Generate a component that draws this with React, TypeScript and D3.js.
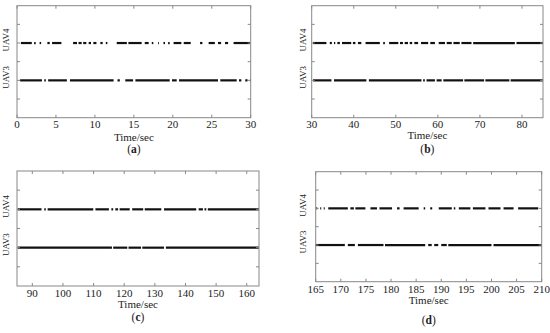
import * as d3 from 'd3';

type Seg = [number, number];

// received-message intervals (seconds)
const aUav4: Seg[] = [[0.5, 1.9], [2.2, 2.4], [2.9, 3.1], [3.9, 4.2], [4.5, 5.7], [7.2, 7.7], [7.9, 8.3], [8.5, 8.9], [9.2, 9.5], [9.8, 10.2], [10.7, 11.0], [11.4, 11.6], [12.8, 14.1], [14.3, 16.0], [16.4, 16.9], [17.3, 17.5], [18.1, 18.2], [18.8, 19.0], [19.4, 19.6], [20.1, 21.1], [21.4, 22.3], [23.5, 23.8], [24.6, 25.4], [25.8, 26.2], [26.7, 27.1], [27.8, 29.9]];
const aUav3: Seg[] = [[0.4, 3.2], [3.5, 3.7], [4.0, 6.4], [6.8, 12.4], [12.9, 13.2], [13.9, 14.9], [15.2, 19.6], [19.9, 20.5], [20.8, 25.8], [26.1, 28.2], [28.5, 28.8], [29.3, 29.6], [29.9, 30]];

const bUav4: Seg[] = [[30.3, 33.5], [34.3, 34.8], [35.3, 35.6], [36.1, 36.7], [37.2, 39.4], [39.8, 40.4], [41.0, 41.8], [42.8, 46.2], [47.0, 47.4], [48.4, 50.6], [51.0, 51.7], [52.1, 52.9], [53.3, 53.9], [54.4, 55.3], [56.0, 57.7], [58.2, 59.3], [60.2, 61.7], [62.1, 63.3], [63.7, 65.2], [65.6, 68.0], [68.4, 78.3], [78.7, 85]];
const bUav3: Seg[] = [[30.3, 34.7], [35.3, 43.0], [43.6, 56.1], [56.5, 56.9], [57.3, 59.3], [59.7, 60.9], [61.3, 66.0], [66.3, 71.0], [71.3, 77.0], [77.3, 85]];

const cUav4: Seg[] = [[85.2, 93.0], [93.9, 94.4], [95.0, 109.9], [110.6, 115.0], [115.8, 116.4], [117.1, 118.0], [118.5, 121.8], [122.6, 126.2], [126.7, 132.1], [133.0, 143.5], [144.3, 145.7], [146.2, 146.8], [147.3, 164]];
const cUav3: Seg[] = [[85.2, 116.0], [116.4, 121.0], [121.4, 125.5], [125.9, 133.0], [133.6, 164]];

const dUav4: Seg[] = [[165.1, 165.3], [165.9, 166.1], [166.6, 166.8], [167.5, 171.4], [171.9, 172.6], [172.9, 174.9], [175.9, 177.2], [177.7, 180.2], [181.2, 181.7], [182.5, 185.5], [186.5, 186.8], [187.8, 188.2], [189.5, 192.1], [192.5, 192.8], [193.5, 195.8], [196.3, 198.8], [199.4, 201.8], [202.4, 204.4], [205.3, 209.3]];
const dUav3: Seg[] = [[165.0, 170.8], [171.4, 172.8], [173.4, 178.5], [178.8, 186.8], [187.4, 188.1], [188.6, 189.4], [190.0, 191.1], [191.4, 200.0], [200.4, 210]];

const aTicks = [0, 5, 10, 15, 20, 25, 30];
const bTicks = [30, 40, 50, 60, 70, 80];
const cTicks = [90, 100, 110, 120, 130, 140, 150, 160];
const dTicks = [165, 170, 175, 180, 185, 190, 195, 200, 205, 210];
const yTicks = [1, 2, 3, 4, 5];
const rows = [{ name: 'UAV4', level: 4 }, { name: 'UAV3', level: 2 }];

const font = '"Liberation Serif", "Times New Roman", serif';

interface PanelProps {
  left: number; right: number; top: number; bottom: number;
  domain: [number, number];
  ticks: number[];
  uav4: Seg[]; uav3: Seg[];
  labelX: number;
  tickY: number; titleY: number; capY: number;
  letter: string;
}

function Panel(p: PanelProps) {
  const x = d3.scaleLinear().domain(p.domain).range([p.left, p.right]);
  const y = d3.scaleLinear().domain([0, 6]).range([p.bottom, p.top]);
  const tl = 3;
  const mid = (p.left + p.right) / 2;
  return (
    <g>
      {p.uav4.map((s, i) => (
        <line key={'u4' + i} x1={x(s[0])} x2={x(s[1])} y1={y(4)} y2={y(4)} stroke="#111" strokeWidth={2.2} />
      ))}
      {p.uav3.map((s, i) => (
        <line key={'u3' + i} x1={x(s[0])} x2={x(s[1])} y1={y(2)} y2={y(2)} stroke="#111" strokeWidth={2.2} />
      ))}
      <rect x={p.left} y={p.top} width={p.right - p.left} height={p.bottom - p.top} fill="none" stroke="#888" strokeWidth={1} />
      {p.ticks.map(t => (
        <g key={'xt' + t}>
          <line x1={x(t)} x2={x(t)} y1={p.bottom} y2={p.bottom - tl} stroke="#888" />
          <line x1={x(t)} x2={x(t)} y1={p.top} y2={p.top + tl} stroke="#888" />
          <text x={x(t)} y={p.tickY} textAnchor="middle" dominantBaseline="middle" fontSize={11} fill="#222" fontFamily={font}>{t}</text>
        </g>
      ))}
      {yTicks.map(t => (
        <g key={'yt' + t}>
          <line x1={p.left} x2={p.left + tl} y1={y(t)} y2={y(t)} stroke="#888" />
          <line x1={p.right} x2={p.right - tl} y1={y(t)} y2={y(t)} stroke="#888" />
        </g>
      ))}
      {rows.map(r => (
        <text key={r.name} transform={`translate(${p.labelX},${y(r.level) - 3}) rotate(-90)`} textAnchor="middle" dominantBaseline="middle" fontSize={9} fill="#222" fontFamily={font}>{r.name}</text>
      ))}
      <text x={mid} y={p.titleY} textAnchor="middle" dominantBaseline="middle" fontSize={11} fill="#222" fontFamily={font}>Time/sec</text>
      <text x={mid} y={p.capY} textAnchor="middle" dominantBaseline="middle" fontSize={11.5} fill="#222" fontFamily={font}>
        (<tspan fontWeight="bold">{p.letter}</tspan>)
      </text>
    </g>
  );
}

export default function App() {
  return (
    <svg width={550} height={333} style={{ position: 'absolute', left: 0, top: 0, background: '#fff' }}>
      <Panel left={17} right={250.7} top={5.7} bottom={117.7} domain={[0, 30]} ticks={aTicks} uav4={aUav4} uav3={aUav3}
        labelX={7} tickY={125.5} titleY={138.5} capY={150} letter="a" />
      <Panel left={311.7} right={543} top={5.7} bottom={117.7} domain={[30, 85]} ticks={bTicks} uav4={bUav4} uav3={bUav3}
        labelX={304} tickY={125.5} titleY={136.5} capY={150} letter="b" />
      <Panel left={17} right={259} top={171} bottom={286} domain={[85, 164]} ticks={cTicks} uav4={cUav4} uav3={cUav3}
        labelX={7} tickY={294} titleY={305.5} capY={318} letter="c" />
      <Panel left={315.7} right={541.7} top={171.7} bottom={281.7} domain={[165, 210]} ticks={dTicks} uav4={dUav4} uav3={dUav3}
        labelX={304} tickY={290} titleY={301} capY={321} letter="d" />
    </svg>
  );
}
